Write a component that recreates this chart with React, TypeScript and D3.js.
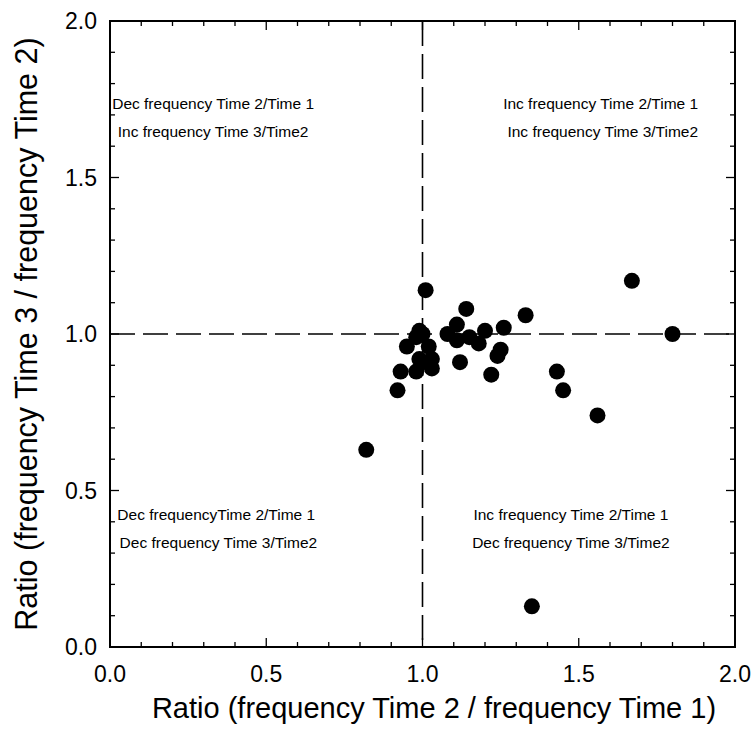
import React from "react";
import * as d3 from "d3";

const xValues = [1.01, 1.14, 1.33, 1.67, 1.80, 1.43, 1.45, 1.56, 0.82, 1.35, 1.22, 1.12, 0.92, 0.93, 0.95, 0.99, 0.98, 1.00, 1.02, 0.99, 1.03, 1.03, 0.98, 1.00, 1.08, 1.11, 1.11, 1.15, 1.20, 1.18, 1.26, 1.25, 1.24];
const yValues = [1.14, 1.08, 1.06, 1.17, 1.00, 0.88, 0.82, 0.74, 0.63, 0.13, 0.87, 0.91, 0.82, 0.88, 0.96, 1.01, 0.99, 1.00, 0.96, 0.92, 0.92, 0.89, 0.88, 0.91, 1.00, 1.03, 0.98, 0.99, 1.01, 0.97, 1.02, 0.95, 0.93];
const majorTicks = [0, 0.5, 1.0, 1.5, 2.0];
const tickLabels = ["0.0", "0.5", "1.0", "1.5", "2.0"];
const minorTicks = d3.range(0, 21).map((i) => i / 10);
const quadrantLabels = [
  { lines: ["Dec frequency Time 2/Time 1", "Inc frequency Time 3/Time2"], cx: 0.33, cy: 1.72 },
  { lines: ["Inc frequency Time 2/Time 1", " Inc frequency Time 3/Time2"], cx: 1.57, cy: 1.72 },
  { lines: ["Dec frequencyTime 2/Time 1", " Dec frequency Time 3/Time2"], cx: 0.34, cy: 0.405 },
  { lines: ["Inc frequency Time 2/Time 1", "Dec frequency Time 3/Time2"], cx: 1.475, cy: 0.405 },
];
const xTitle = "Ratio (frequency Time 2 / frequency Time 1)";
const yTitle = "Ratio (frequency Time 3 / frequency Time 2)";

export default function App() {
  const W = 754, H = 745;
  const left = 110, right = 735, top = 21, bottom = 647;
  const x = d3.scaleLinear().domain([0, 2]).range([left, right]);
  const y = d3.scaleLinear().domain([0, 2]).range([bottom, top]);
  const font = "Arial, 'Liberation Sans', sans-serif";
  const isMajor = (v: number) => Math.abs(v * 2 - Math.round(v * 2)) < 1e-6;

  return (
    <svg width={W} height={H} style={{ position: "absolute", left: 0, top: 0, background: "#fff" }} fontFamily={font}>
      {/* dashed reference lines */}
      <line x1={x(0)} x2={x(2)} y1={y(1)} y2={y(1)} stroke="#000" strokeWidth={1.6} strokeDasharray="25,8" />
      <line x1={x(1)} x2={x(1)} y1={y(2)} y2={y(0)} stroke="#000" strokeWidth={1.6} strokeDasharray="25,8" />

      {/* ticks */}
      {minorTicks.map((t, i) => {
        const len = isMajor(t) ? 9 : 5;
        return (
          <g key={"t" + i} stroke="#000" strokeWidth={1.3}>
            <line x1={x(t)} x2={x(t)} y1={bottom} y2={bottom - len} />
            <line x1={x(t)} x2={x(t)} y1={top} y2={top + len} />
            <line x1={left} x2={left + len} y1={y(t)} y2={y(t)} />
            <line x1={right} x2={right - len} y1={y(t)} y2={y(t)} />
          </g>
        );
      })}

      {/* frame */}
      <rect x={left} y={top} width={right - left} height={bottom - top} fill="none" stroke="#000" strokeWidth={2} />

      {/* tick labels */}
      {majorTicks.map((t, i) => (
        <text key={"xl" + i} x={x(t)} y={682} textAnchor="middle" fontSize={23}>{tickLabels[i]}</text>
      ))}
      {majorTicks.map((t, i) => (
        <text key={"yl" + i} x={97} y={y(t)} dy="0.35em" textAnchor="end" fontSize={23}>{tickLabels[i]}</text>
      ))}

      {/* quadrant labels */}
      {quadrantLabels.map((q, i) => (
        <text key={"q" + i} x={x(q.cx)} y={y(q.cy)} textAnchor="middle" fontSize={15.5} xmlSpace="preserve">
          {q.lines.map((l, j) => (
            <tspan key={j} x={x(q.cx)} dy={j === 0 ? 0 : 28}>{l}</tspan>
          ))}
        </text>
      ))}

      {/* points */}
      {xValues.map((v, i) => (
        <circle key={"p" + i} cx={x(v)} cy={y(yValues[i])} r={8} fill="#000" />
      ))}

      {/* axis titles */}
      <text x={434} y={718} textAnchor="middle" fontSize={29}>{xTitle}</text>
      <text transform={`translate(37, ${(top + bottom) / 2}) rotate(-90)`} textAnchor="middle" fontSize={30.5}>{yTitle}</text>
    </svg>
  );
}
